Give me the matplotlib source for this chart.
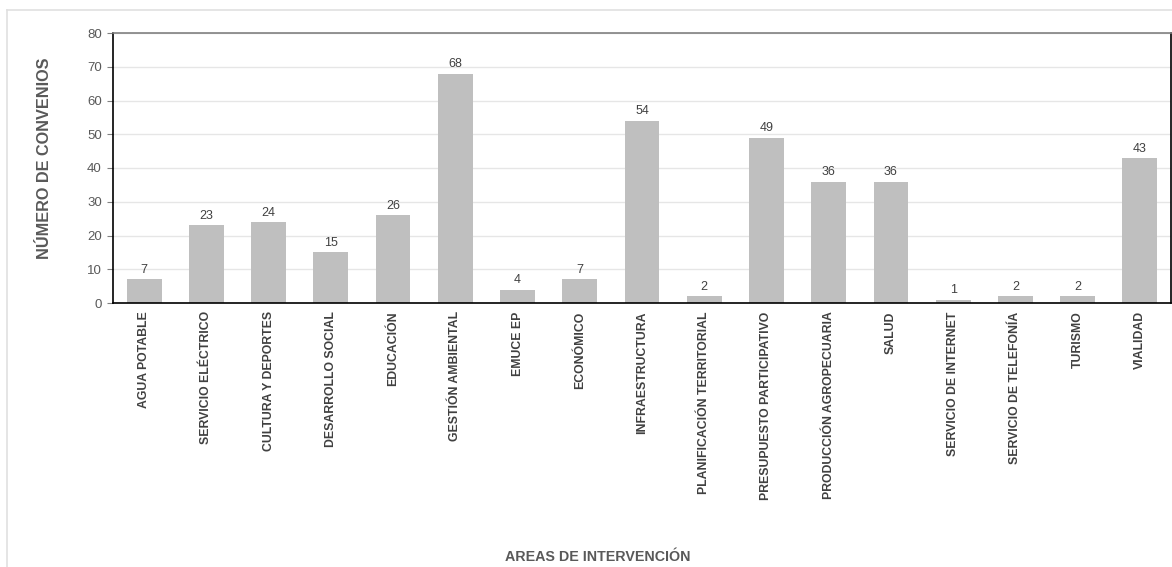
import matplotlib
matplotlib.use("Agg")
import matplotlib.pyplot as plt
from matplotlib.lines import Line2D

categories = ["AGUA POTABLE", "SERVICIO ELÉCTRICO", "CULTURA Y DEPORTES", "DESARROLLO SOCIAL",
              "EDUCACIÓN", "GESTIÓN AMBIENTAL", "EMUCE EP", "ECONÓMICO", "INFRAESTRUCTURA",
              "PLANIFICACIÓN TERRITORIAL", "PRESUPUESTO PARTICIPATIVO", "PRODUCCIÓN AGROPECUARIA",
              "SALUD", "SERVICIO DE INTERNET", "SERVICIO DE TELEFONÍA", "TURISMO", "VIALIDAD"]
values = [7, 23, 24, 15, 26, 68, 4, 7, 54, 2, 49, 36, 36, 1, 2, 2, 43]
yticks = [0, 10, 20, 30, 40, 50, 60, 70, 80]

plt.rcParams['font.family'] = ['Liberation Sans', 'DejaVu Sans']

W, H = 1172, 567
fig = plt.figure(figsize=(W/100, H/100), dpi=100)
ax = fig.add_axes([113/W, 1 - 303/H, (1171-113)/W, (303-33)/H])

x = range(len(categories))
ax.bar(x, values, width=0.56, color='#BFBFBF', zorder=2)
for xi, v in zip(x, values):
    ax.text(xi, v + 1.0, str(v), ha='center', va='bottom', fontsize=9, color='#404040')

ax.set_xlim(-0.5, len(categories) - 0.5)
ax.set_ylim(0, 80)
ax.set_yticks(yticks)
ax.set_yticklabels([str(t) for t in yticks], fontsize=9.5, color='#595959')
ax.set_xticks(list(x))
ax.set_xticklabels(categories, rotation=90, fontsize=8.8, fontweight='bold', color='#404040')
ax.tick_params(axis='x', length=0, pad=6)
ax.tick_params(axis='y', length=4, color='#808080', pad=4)
ax.grid(axis='y', color='#E6E6E6', linewidth=1, zorder=0)
for s in ['left', 'bottom', 'right']:
    ax.spines[s].set_color('black')
    ax.spines[s].set_linewidth(1.2)
ax.spines['top'].set_color('#808080')
ax.spines['top'].set_linewidth(1.2)

fig.text(45/W, 1 - 158/H, "NÚMERO DE CONVENIOS", rotation=90, ha='center', va='center',
         fontsize=11.7, fontweight='bold', color='#595959')
fig.text(598/W, 1 - 557/H, "AREAS DE INTERVENCIÓN", ha='center', va='center',
         fontsize=10.3, fontweight='bold', color='#595959')

fig.add_artist(Line2D([7/W, 1], [1 - 10/H, 1 - 10/H], transform=fig.transFigure, color='#E0E0E0', lw=1.2))
fig.add_artist(Line2D([7/W, 7/W], [0, 1 - 10/H], transform=fig.transFigure, color='#E0E0E0', lw=1.2))

fig.savefig("out.png", dpi=100, facecolor='white')
